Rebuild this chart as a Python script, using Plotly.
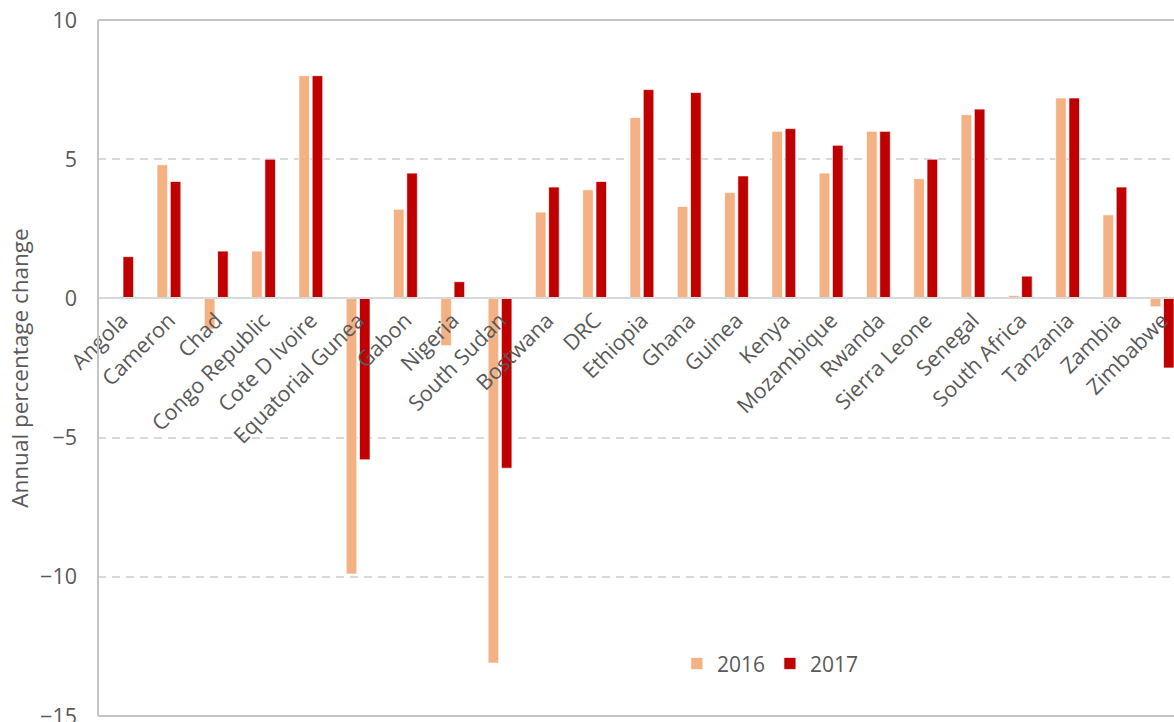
import plotly.graph_objects as go

# Countries along the category axis
countries = [
    "Angola", "Cameron", "Chad", "Congo Republic", "Cote D Ivoire",
    "Equatorial Gunea", "Gabon", "Nigeria", "South Sudan", "Bostwana",
    "DRC", "Ethiopia", "Ghana", "Guinea", "Kenya", "Mozambique",
    "Rwanda", "Sierra Leone", "Senegal", "South Africa", "Tanzania",
    "Zambia", "Zimbabwe",
]

# Annual percentage change by year
values_2016 = [
    None, 4.8, -1.1, 1.7, 8.0,
    -9.9, 3.2, -1.7, -13.1, 3.1,
    3.9, 6.5, 3.3, 3.8, 6.0, 4.5,
    6.0, 4.3, 6.6, 0.1, 7.2,
    3.0, -0.3,
]
values_2017 = [
    1.5, 4.2, 1.7, 5.0, 8.0,
    -5.8, 4.5, 0.6, -6.1, 4.0,
    4.2, 7.5, 7.4, 4.4, 6.1, 5.5,
    6.0, 5.0, 6.8, 0.8, 7.2,
    4.0, -2.5,
]

y_ticks = [10, 5, 0, -5, -10, -15]

TEXT = "#595959"
GRID = "#D9D9D9"
FRAME = "#C4C4C4"
FONT = "Open Sans, sans-serif"

fig = go.Figure()
fig.add_trace(go.Bar(
    name="2016", x=countries, y=values_2016,
    marker=dict(color="#F4B183", line=dict(color="white", width=0.7)),
))
fig.add_trace(go.Bar(
    name="2017", x=countries, y=values_2017,
    marker=dict(color="#C00000", line=dict(color="white", width=0.7)),
))

y_min, y_max = -15, 10

fig.update_layout(
    width=1174, height=722,
    margin=dict(l=98, r=0, t=20, b=6, autoexpand=False),
    paper_bgcolor="white", plot_bgcolor="white",
    font=dict(family=FONT, color=TEXT, size=21),
    barmode="group", bargap=0.44, bargroupgap=0.2,
    showlegend=True,
    legend=dict(
        orientation="h", x=0.538, y=0.075, xanchor="left", yanchor="middle",
        font=dict(size=21, color=TEXT), bgcolor="rgba(0,0,0,0)",
        itemwidth=30, traceorder="normal",
    ),
    xaxis=dict(
        range=[-0.5, 22.25], automargin=False,
        anchor="free", position=(0 - y_min) / (y_max - y_min),
        showline=True, linecolor=GRID, linewidth=2,
        showgrid=False, ticks="", tickangle=-45,
        tickfont=dict(size=21.5, color=TEXT, family=FONT),
    ),
    yaxis=dict(
        range=[y_min, y_max], tickvals=y_ticks, automargin=False,
        showgrid=True, gridcolor=GRID, gridwidth=2, griddash="8px,6px",
        zeroline=False, showline=False, ticks="",
        ticklabelstandoff=20, ticklabeloverflow="allow",
        tickfont=dict(size=21.5, color=TEXT, family=FONT),
        title=dict(text="Annual percentage change", standoff=5,
                   font=dict(size=22.5, color=TEXT, family=FONT)),
    ),
)

# Plot frame on the top, left and bottom edges
for x0, y0, x1, y1 in [(0, 1, 1.05, 1), (0, 0, 1.05, 0), (0, 0, 0, 1)]:
    fig.add_shape(type="line", xref="paper", yref="paper",
                  x0=x0, y0=y0, x1=x1, y1=y1,
                  line=dict(color=FRAME, width=2), layer="above")

fig.write_html("out.html")
